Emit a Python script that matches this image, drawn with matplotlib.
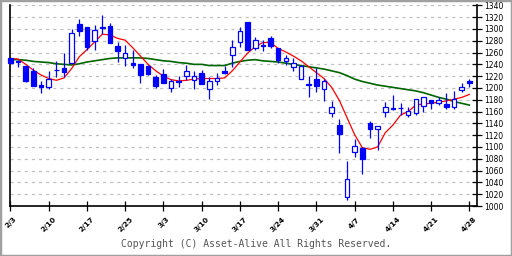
import numpy as np
import matplotlib
matplotlib.use("Agg")
import matplotlib.pyplot as plt
from matplotlib.patches import Rectangle

# daily candles, 2/3 .. 4/28 (61 sessions)
opens = [1250, 1245, 1237, 1229, 1205, 1202, 1231, 1234, 1243, 1308,
         1303, 1280, 1302, 1305, 1271, 1250, 1243, 1240, 1238, 1219,
         1224, 1200, 1211, 1221, 1213, 1226, 1199, 1211, 1229, 1256,
         1278, 1311, 1267, 1271, 1284, 1268, 1246, 1236, 1216, 1206,
         1215, 1199, 1157, 1137, 1015, 1091, 1099, 1140, 1130, 1160,
         1166, 1166, 1154, 1157, 1169, 1179, 1174, 1172, 1168, 1196,
         1211]
highs = [1251, 1248, 1238, 1233, 1212, 1229, 1246, 1260, 1300, 1317,
         1304, 1307, 1324, 1310, 1278, 1273, 1264, 1241, 1239, 1222,
         1232, 1215, 1220, 1239, 1229, 1230, 1219, 1225, 1238, 1282,
         1304, 1312, 1287, 1282, 1288, 1268, 1256, 1250, 1239, 1220,
         1233, 1216, 1178, 1148, 1076, 1113, 1100, 1144, 1136, 1177,
         1188, 1175, 1168, 1182, 1184, 1179, 1184, 1192, 1195, 1208,
         1216]
lows = [1242, 1236, 1210, 1203, 1192, 1199, 1218, 1218, 1242, 1288,
        1265, 1264, 1292, 1276, 1244, 1238, 1234, 1209, 1222, 1200,
        1208, 1194, 1201, 1213, 1198, 1206, 1181, 1205, 1224, 1236,
        1269, 1264, 1264, 1263, 1268, 1242, 1239, 1229, 1215, 1185,
        1194, 1178, 1151, 1090, 1011, 1083, 1055, 1116, 1095, 1150,
        1162, 1154, 1150, 1155, 1160, 1165, 1171, 1165, 1165, 1194,
        1201]
closes = [1243, 1244, 1212, 1204, 1202, 1216, 1230, 1227, 1293, 1297,
          1270, 1298, 1303, 1277, 1263, 1260, 1239, 1222, 1224, 1203,
          1209, 1211, 1210, 1229, 1220, 1206, 1212, 1217, 1226, 1270,
          1297, 1265, 1282, 1272, 1271, 1247, 1250, 1243, 1237, 1205,
          1203, 1212, 1167, 1122, 1046, 1101, 1079, 1130, 1135, 1167,
          1164, 1166, 1161, 1181, 1184, 1174, 1180, 1168, 1181, 1201,
          1209]

# moving averages as drawn
ma_short = [1250, 1249, 1240, 1230, 1222, 1216, 1213, 1217, 1233, 1253,
            1265, 1278, 1291, 1290, 1284, 1281, 1268, 1254, 1240, 1229,
            1220, 1214, 1212, 1213, 1215, 1216, 1216, 1216, 1217, 1229,
            1244, 1259, 1270, 1277, 1277, 1267, 1261, 1254, 1246, 1236,
            1226, 1216, 1201, 1179, 1150, 1121, 1099, 1096, 1100, 1124,
            1137, 1154, 1160, 1171, 1173, 1174, 1176, 1178, 1181, 1184,
            1189]
ma_long = [1248, 1248, 1247, 1245, 1244, 1243, 1241, 1240, 1239, 1241,
           1244, 1246, 1248, 1250, 1251, 1251, 1251, 1251, 1250, 1248,
           1246, 1245, 1243, 1242, 1240, 1240, 1238, 1238, 1238, 1242,
           1245, 1247, 1248, 1246, 1245, 1244, 1242, 1240, 1238, 1236,
           1234, 1232, 1229, 1226, 1221, 1215, 1211, 1208, 1205, 1203,
           1201, 1199, 1197, 1195, 1192, 1188, 1184, 1181, 1177, 1174,
           1171]

week_labels = ['2/3', '2/10', '2/17', '2/25', '3/3', '3/10', '3/17',
               '3/24', '3/31', '4/7', '4/14', '4/21', '4/28']

BLUE = '#0000ff'

fig = plt.figure(figsize=(5.12, 2.56), dpi=100)
fig.patch.set_facecolor('white')
ax = fig.add_axes([0.0205, 0.1953, 0.9111, 0.7838])

o = np.array(opens)
c = np.array(closes)
x = np.arange(len(o))
up = c >= o

ax.vlines(x, lows, highs, color=BLUE, lw=0.9, zorder=3, clip_on=False)
ax.bar(x, np.abs(c - o), bottom=np.minimum(o, c), width=0.6,
       color=np.where(up, 'white', BLUE), edgecolor=BLUE, linewidth=0.9,
       zorder=4, clip_on=False)

ax.plot(x, ma_long, color='#006400', lw=1.2, zorder=2)
ax.plot(x, ma_short, color='#ff0000', lw=0.9, zorder=2)

ax.set_xlim(0, 61)
ax.set_ylim(1000, 1340)

ax.set_yticks(np.arange(1000, 1341, 20))
ax.yaxis.tick_right()
ax.tick_params(axis='y', direction='inout', length=7, width=0.9,
               labelsize=5.5, pad=2)
ax.set_xticks(np.arange(0, 61, 5))
ax.set_xticklabels(week_labels, rotation=45, ha='center')
ax.tick_params(axis='x', direction='inout', length=6.5, width=0.9,
               labelsize=5.3, pad=4)
for lab in ax.get_xticklabels():
    lab.set_fontweight('bold')

ax.grid(axis='y', color='#c0c0c0', lw=0.9, linestyle=(0, (2.5, 3.2)))
ax.set_axisbelow(True)
ax.spines['top'].set_visible(False)
for s in ['left', 'right', 'bottom']:
    ax.spines[s].set_linewidth(1.2)

fig.text(0.5, 0.045, 'Copyright (C) Asset-Alive All Rights Reserved.',
         ha='center', va='center', fontsize=7, family='DejaVu Sans Mono',
         color='#555555')

fig.patches.append(Rectangle((0, 0), 1, 1, transform=fig.transFigure,
                             fill=False, edgecolor='#a0a0a0', lw=2.5))

fig.savefig('out.png', dpi=100)
